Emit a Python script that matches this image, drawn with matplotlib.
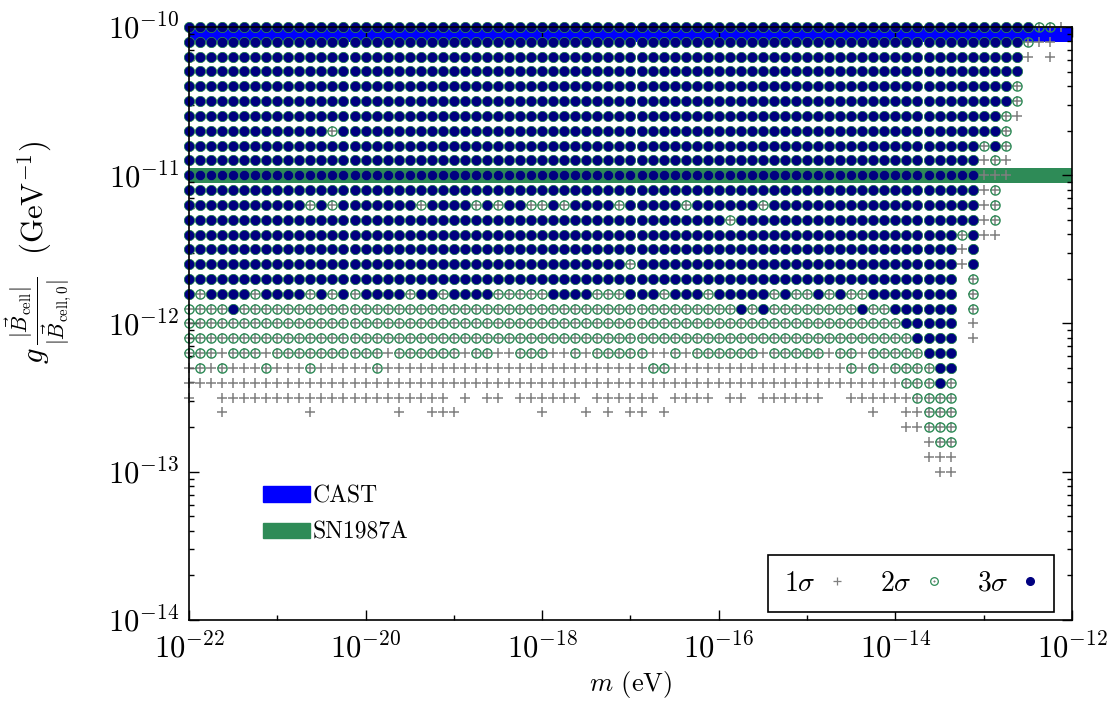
import numpy as np
import matplotlib
matplotlib.use("Agg")
import matplotlib.pyplot as plt
from matplotlib.lines import Line2D
from matplotlib.patches import Patch
from matplotlib.ticker import FixedLocator, NullFormatter, LogLocator

plt.rcParams['font.family'] = 'serif'
plt.rcParams['font.serif'] = ['cmr10']
plt.rcParams['mathtext.fontset'] = 'cm'
plt.rcParams['axes.formatter.use_mathtext'] = True

# --- scan grid ---
m_exp = np.linspace(-22, -12, 81)          # log10 m (eV), 81 columns
g_exp = np.linspace(-10, -13, 31)          # log10 g (GeV^-1), 31 rows

# --- significance level per grid point: 3 = 3sigma, 2 = 2sigma, 1 = 1sigma, . = none ---
# columns in groups of ten (0-9, 10-19, ... 70-79, 80)
levels = [
    "3333333333 3333333333 3333333333 3333333333 3333333333 3333333333 3333333333 3333333221 .",
    "3333333333 3333333333 3333333333 3333333333 3333333333 3333333333 3333333333 333333211. .",
    "3333333333 3333333333 3333333333 3333333333 3333333333 3333333333 3333333333 3333331.1. .",
    "3333333333 3333333333 3333333333 3333333333 3333333333 3333333333 3333333333 333333.... .",
    "3333333333 3333333333 3333333333 3333333333 3333333333 3333333333 3333333333 333332.... .",
    "3333333333 3333333333 3333333333 3333333333 3333333333 3333333333 3333333333 333332.... .",
    "3333333333 3333333333 3333333333 3333333333 3333333333 3333333333 3333333333 333321.... .",
    "3333333333 3332333333 3333333333 3333333333 3333333333 3333333333 3333333333 33332..... .",
    "3333333333 3333333333 3333333333 3333333333 3333333333 3333333333 3333333333 33232..... .",
    "3333333333 3333333333 3333333333 3333333333 3333333333 3333333333 3333333333 33121..... .",
    "3333333333 3333333333 3333333333 3333333333 3333333333 3333333333 3333333333 33111..... .",
    "3333333333 3333333333 3333333333 3333333333 3333333333 3333333333 3333333333 3312...... .",
    "3333333333 3232333333 3233332323 3223233332 3333323333 3323333333 3333333333 3312...... .",
    "3333333333 3333333333 3333333333 3333333333 3333333332 3333333333 3333333333 3312...... .",
    "3333333333 3333333333 3333333333 3333333333 3333333333 3333333333 3333333333 2311...... .",
    "3333333333 3333333333 3333333333 3333333333 3333333333 3333333333 3333333333 13........ .",
    "3333333333 3333333333 3333333333 3333333333 2333333333 3333333333 3333333333 13........ .",
    "3333333333 3333333333 3333333333 3333333333 3333333333 3333333333 3333333333 .2........ .",
    "3233332333 3232323333 2332333322 2223333222 3332333233 3332322323 2233333333 .2........ .",
    "2222322222 2222222222 2222222222 2222222222 2222222222 3232222222 2322333333 .2........ .",
    "2222222222 2222222222 2222222222 2222222222 2222222222 2222222222 2222233333 .1........ .",
    "2222222222 2222222222 2222222222 2222222222 2222222222 2222222222 2222223333 .1........ .",
    "2221222122 2222222212 2222212211 2221121222 2211212222 2212222212 2122222333 .......... .",
    "1212111211 1211111211 1111111111 1111111111 1122111111 1111111111 2121222233 .......... .",
    "1111111111 1111111111 1111111111 1111111111 1111111111 1111111111 1111122232 .......... .",
    "1..1111111 1111111111 1111.1.11. 111111.111 111.1111.1 1.111111.. 1111112222 .......... .",
    "...1...... .1.......1 ..111..... ..1...1.1. 11.1...... .......... ..1..11222 .......... .",
    ".......... .......... .......... .......... .......... .......... .....11222 .......... .",
    ".......... .......... .......... .......... .......... .......... .......122 .......... .",
    ".......... .......... .......... .......... .......... .......... .......111 .......... .",
    ".......... .......... .......... .......... .......... .......... ........11 .......... .",
]

# --- bounds ---
cast_band = (10 ** -10.1, 1e-10)
sn_band = (10 ** -11.05, 10 ** -10.95)

blue = '#0000ff'
green = '#2e8b57'
navy = '#000080'
grey = '#7f7f7f'

lev = np.array([[0 if c == '.' else int(c) for c in row.replace(" ", "")] for row in levels])
M, G = np.meshgrid(10.0 ** m_exp, 10.0 ** g_exp)

fig = plt.figure(figsize=(11.07, 7.03), dpi=100)
ax = fig.add_axes([0.1707, 0.1181, 0.7977, 0.8435])
ax.set_xscale('log')
ax.set_yscale('log')

ax.axhspan(*cast_band, color=blue, lw=0, zorder=1)
ax.axhspan(*sn_band, color=green, lw=0, zorder=1)

s1 = lev >= 1
s2 = lev >= 2
s3 = lev >= 3
ax.plot(M[s1], G[s1], ls='none', marker='+', ms=7, mew=1.1, color=grey,
        clip_on=False, zorder=2)
ax.plot(M[s2], G[s2], ls='none', marker='o', ms=6.6, mew=1.0, mfc='none',
        mec=green, clip_on=False, zorder=2)
ax.plot(M[s3], G[s3], ls='none', marker='o', ms=7.4, mew=0.5, mfc=navy,
        mec=green, clip_on=False, zorder=2)

ax.set_xlim(1e-22, 1e-12)
ax.set_ylim(1e-14, 1e-10)
ax.xaxis.set_major_locator(FixedLocator(10.0 ** np.arange(-22, -11, 2)))
ax.xaxis.set_minor_locator(FixedLocator(10.0 ** np.arange(-21, -12, 2)))
ax.xaxis.set_minor_formatter(NullFormatter())
ax.yaxis.set_major_locator(FixedLocator(10.0 ** np.arange(-14, -9)))
ax.yaxis.set_minor_locator(LogLocator(base=10, subs=np.arange(2, 10)))
ax.yaxis.set_minor_formatter(NullFormatter())
ax.tick_params(which='both', direction='in', top=True, right=True,
               labelsize=22, width=1.0)
ax.tick_params(which='major', length=7, pad=7)
ax.tick_params(axis='x', which='major', pad=9)
ax.tick_params(which='minor', length=3.5)
for sp in ax.spines.values():
    sp.set_linewidth(1.2)

ax.set_xlabel(r'$m$ (eV)', fontsize=19, labelpad=4)
ax.set_ylabel(r'$g\,\frac{|\vec{B}_{\mathrm{cell}}|}{|\vec{B}_{\mathrm{cell,0}}|}$  (GeV$^{-1}$)',
              fontsize=22)
ax.yaxis.set_label_coords(-0.13, 0.62)

# --- band legend ---
band_handles = [Patch(color=blue, label='CAST'), Patch(color=green, label='SN1987A')]
leg1 = ax.legend(handles=band_handles, loc='upper left', bbox_to_anchor=(0.084, 0.2276),
                 frameon=False, fontsize=17, handlelength=2.0, handleheight=0.64,
                 handletextpad=0.1, labelspacing=0.62, borderpad=0, borderaxespad=0)
ax.add_artist(leg1)

# --- significance legend ---
h1 = Line2D([], [], ls='none', marker='+', ms=6, mew=0.9, color=grey)
h2 = (Line2D([], [], ls='none', marker='o', ms=5.5, mew=0.9, mfc='none', mec=green),
      Line2D([], [], ls='none', marker='+', ms=1.8, mew=0.8, color=grey))
h3 = Line2D([], [], ls='none', marker='o', ms=5.5, mfc=navy, mec=navy)
leg2 = ax.legend([h1, h2, h3], [r'$1\sigma$', r'$2\sigma$', r'$3\sigma$'],
                 loc='lower right', bbox_to_anchor=(0.9796, 0.0135), ncol=3,
                 markerfirst=False, fontsize=20, handlelength=0.6, handletextpad=0.49,
                 columnspacing=1.25, borderpad=0.55, borderaxespad=0,
                 fancybox=False, edgecolor='black', framealpha=1)
leg2.get_frame().set_linewidth(1.2)

fig.savefig('out.png', dpi=100)
